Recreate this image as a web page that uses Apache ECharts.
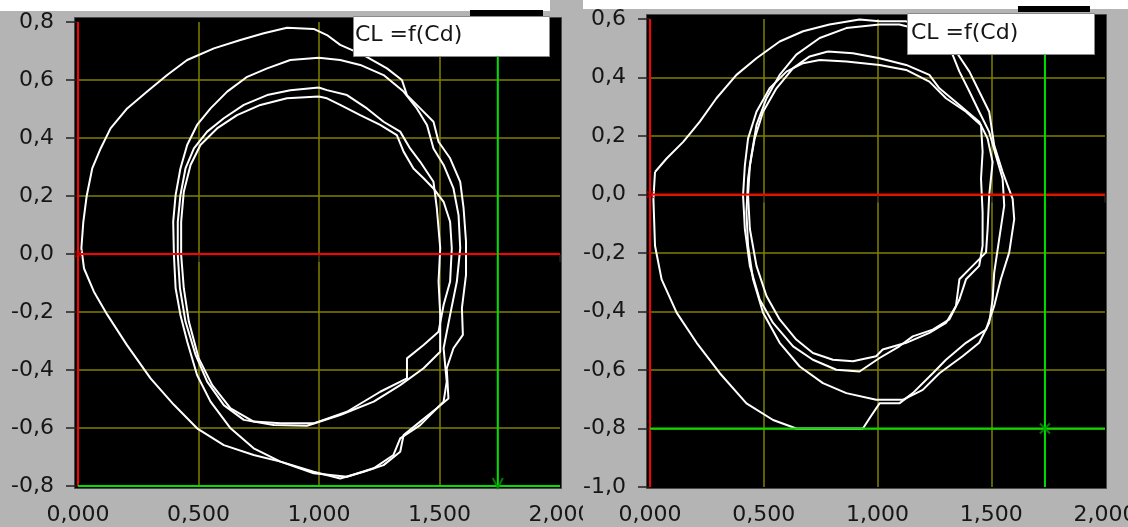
<!DOCTYPE html>
<html><head><meta charset="utf-8">
<script src="https://cdn.jsdelivr.net/npm/echarts@6/dist/echarts.min.js"></script>
<style>html,body{margin:0;padding:0;background:#b4b4b4;overflow:hidden}#c{width:1128px;height:527px;}</style>
</head><body><div id="c"></div>
<script>
// ---- data ----
const xTickLabels = ['0,000','0,500','1,000','1,500','2,000'];
const leftYTickLabels = ['-0,8','-0,6','-0,4','-0,2','0,0','0,2','0,4','0,6','0,8'];
const rightYTickLabels = ['-1,0','-0,8','-0,6','-0,4','-0,2','0,0','0,2','0,4','0,6'];
const legendName = 'CL =f(Cd)';

// cursors [Cd, CL]
const leftCursorRed = [0, 0];
const leftCursorGreen = [1.742, -0.8];
const rightCursorRed = [0, 0];
const rightCursorGreen = [1.736, -0.8];

// left panel loops [Cd, CL]
const leftLoopA = [[0.025,-0.05],[0.014,0.02],[0.022,0.11],[0.036,0.20],[0.059,0.295],[0.094,0.364],[0.135,0.433],[0.204,0.502],[0.287,0.56],[0.37,0.617],[0.453,0.669],[0.564,0.709],[0.674,0.738],[0.771,0.761],[0.867,0.78],[0.978,0.776],[1.033,0.755],[1.088,0.721],[1.185,0.686],[1.282,0.64],[1.344,0.6],[1.365,0.548],[1.42,0.502],[1.475,0.456],[1.496,0.387],[1.544,0.33],[1.586,0.249],[1.60,0.157],[1.61,0.043],[1.61,-0.072],[1.593,-0.187],[1.597,-0.279],[1.558,-0.325],[1.53,-0.394],[1.537,-0.498],[1.489,-0.532],[1.42,-0.578],[1.351,-0.624],[1.337,-0.682],[1.268,-0.728],[1.185,-0.751],[1.088,-0.774],[0.978,-0.751],[0.84,-0.716],[0.729,-0.693],[0.605,-0.659],[0.494,-0.601],[0.398,-0.52],[0.301,-0.429],[0.204,-0.315],[0.122,-0.21],[0.066,-0.13]];
const leftLoopB = [[0.999,0.677],[0.881,0.669],[0.785,0.64],[0.702,0.611],[0.619,0.56],[0.55,0.502],[0.494,0.445],[0.453,0.376],[0.425,0.295],[0.405,0.203],[0.395,0.111],[0.398,-0.003],[0.405,-0.118],[0.425,-0.21],[0.453,-0.302],[0.494,-0.417],[0.55,-0.509],[0.633,-0.601],[0.729,-0.67],[0.84,-0.716],[0.978,-0.756],[1.116,-0.768],[1.227,-0.739],[1.309,-0.693],[1.337,-0.636],[1.42,-0.59],[1.517,-0.509],[1.53,-0.44],[1.517,-0.325],[1.544,-0.21],[1.572,-0.095],[1.586,0.02],[1.579,0.134],[1.558,0.226],[1.517,0.307],[1.475,0.364],[1.448,0.445],[1.406,0.502],[1.351,0.56],[1.268,0.617],[1.171,0.652],[1.088,0.669]];
const leftLoopC = [[0.999,0.574],[0.881,0.565],[0.785,0.548],[0.688,0.514],[0.605,0.468],[0.536,0.422],[0.481,0.364],[0.446,0.295],[0.425,0.203],[0.414,0.111],[0.414,-0.003],[0.423,-0.118],[0.446,-0.233],[0.488,-0.348],[0.536,-0.44],[0.605,-0.521],[0.688,-0.572],[0.812,-0.59],[0.95,-0.592],[1.088,-0.555],[1.227,-0.509],[1.337,-0.452],[1.434,-0.394],[1.503,-0.337],[1.503,-0.21],[1.496,-0.095],[1.503,0.02],[1.489,0.157],[1.475,0.249],[1.42,0.318],[1.378,0.364],[1.337,0.422],[1.268,0.456],[1.199,0.502],[1.116,0.548],[1.033,0.565]];
const leftLoopD = [[0.999,0.543],[0.867,0.537],[0.757,0.514],[0.66,0.479],[0.577,0.433],[0.508,0.376],[0.467,0.307],[0.439,0.215],[0.428,0.111],[0.428,-0.003],[0.439,-0.118],[0.46,-0.233],[0.501,-0.36],[0.557,-0.452],[0.633,-0.532],[0.729,-0.578],[0.84,-0.584],[0.978,-0.584],[1.116,-0.544],[1.254,-0.475],[1.365,-0.429],[1.365,-0.36],[1.434,-0.314],[1.496,-0.268],[1.517,-0.176],[1.544,-0.095],[1.551,0.02],[1.544,0.111],[1.517,0.18],[1.475,0.226],[1.434,0.261],[1.392,0.295],[1.351,0.353],[1.323,0.41],[1.254,0.445],[1.171,0.479],[1.088,0.514],[1.033,0.537]];

// right panel loops [Cd, CL]
const rightLoopA = [[0.022,0.077],[0.073,0.123],[0.146,0.18],[0.219,0.249],[0.292,0.329],[0.38,0.409],[0.468,0.466],[0.57,0.523],[0.673,0.558],[0.789,0.581],[0.921,0.598],[1.009,0.592],[1.126,0.592],[1.243,0.558],[1.345,0.489],[1.404,0.42],[1.447,0.352],[1.491,0.283],[1.513,0.168],[1.55,0.077],[1.594,-0.015],[1.601,-0.084],[1.579,-0.198],[1.542,-0.29],[1.513,-0.381],[1.477,-0.462],[1.389,-0.507],[1.301,-0.565],[1.243,-0.611],[1.155,-0.679],[1.096,-0.714],[1.009,-0.714],[0.965,-0.765],[0.936,-0.8],[0.775,-0.8],[0.643,-0.8],[0.541,-0.771],[0.424,-0.714],[0.307,-0.611],[0.205,-0.507],[0.117,-0.404],[0.051,-0.29],[0.022,-0.175],[0.015,-0.015]];
const rightLoopB = [[1.009,0.581],[0.863,0.569],[0.746,0.535],[0.643,0.478],[0.57,0.409],[0.512,0.329],[0.468,0.237],[0.446,0.134],[0.431,0.054],[0.424,-0.061],[0.431,-0.175],[0.453,-0.29],[0.497,-0.404],[0.57,-0.507],[0.658,-0.588],[0.76,-0.645],[0.863,-0.679],[0.994,-0.702],[1.111,-0.702],[1.199,-0.668],[1.272,-0.611],[1.374,-0.553],[1.447,-0.507],[1.491,-0.439],[1.506,-0.359],[1.513,-0.267],[1.535,-0.152],[1.557,-0.038],[1.55,0.054],[1.52,0.134],[1.491,0.214],[1.447,0.283],[1.404,0.352],[1.36,0.42],[1.33,0.478],[1.272,0.523],[1.184,0.564],[1.096,0.581]];
const rightLoopC = [[0.782,0.489],[0.892,0.483],[1.009,0.466],[1.126,0.443],[1.228,0.409],[1.272,0.363],[1.36,0.306],[1.447,0.249],[1.484,0.191],[1.506,0.111],[1.491,-0.003],[1.484,-0.118],[1.477,-0.198],[1.418,-0.244],[1.36,-0.29],[1.345,-0.381],[1.301,-0.439],[1.228,-0.473],[1.126,-0.507],[1.023,-0.53],[0.994,-0.553],[0.892,-0.57],[0.804,-0.565],[0.716,-0.542],[0.643,-0.496],[0.57,-0.427],[0.512,-0.347],[0.468,-0.244],[0.439,-0.118],[0.431,-0.003],[0.439,0.1],[0.46,0.191],[0.497,0.283],[0.556,0.363],[0.629,0.432],[0.702,0.472]];
const rightLoopD = [[0.746,0.46],[0.863,0.455],[1.009,0.443],[1.126,0.426],[1.228,0.386],[1.301,0.329],[1.389,0.283],[1.455,0.237],[1.462,0.146],[1.455,0.054],[1.462,-0.061],[1.462,-0.175],[1.447,-0.244],[1.389,-0.29],[1.36,-0.359],[1.316,-0.427],[1.243,-0.462],[1.155,-0.485],[1.096,-0.519],[1.009,-0.559],[0.921,-0.605],[0.819,-0.599],[0.716,-0.565],[0.629,-0.519],[0.541,-0.439],[0.482,-0.359],[0.439,-0.244],[0.417,-0.118],[0.409,-0.003],[0.417,0.1],[0.431,0.191],[0.468,0.283],[0.526,0.363],[0.6,0.42],[0.673,0.449]];

// ---- chart ----
const FONT = '"DejaVu Sans", sans-serif';
const panels = [
  {yMin:-0.8, yMax:0.8, yLabels:leftYTickLabels, loops:[leftLoopA,leftLoopB,leftLoopC,leftLoopD],
   red:leftCursorRed, green:leftCursorGreen, greenSym:'path://M0 0L5 5L10 0', greenOff:[0,-3],
   grid:{left:78, top:22, width:482, height:464}, yOff:8, xOff:6},
  {yMin:-1.0, yMax:0.6, yLabels:rightYTickLabels, loops:[rightLoopA,rightLoopB,rightLoopC,rightLoopD],
   red:rightCursorRed, green:rightCursorGreen, greenSym:'path://M0 0L10 10M10 0L0 10', greenOff:[0,0],
   grid:{left:650, top:19, width:455, height:468}, yOff:8, xOff:5}
];

const grids = [], xAxes = [], yAxes = [], series = [];
panels.forEach((p, i) => {
  grids.push(Object.assign({containLabel:false, outerBoundsMode:'none'}, p.grid));
  xAxes.push({type:'value', gridIndex:i, min:0, max:2, interval:0.5, offset:p.xOff,
    axisLine:{show:false}, axisTick:{show:true, length:8, lineStyle:{color:'#202020', width:1.5}},
    axisLabel:{margin:12, color:'#161616', fontFamily:FONT, fontSize:22, hideOverlap:false,
      formatter:(v, idx) => xTickLabels[idx]},
    splitLine:{show:true, showMinLine:false, showMaxLine:false, lineStyle:{color:'#808000', width:1.5}}});
  yAxes.push({type:'value', gridIndex:i, min:p.yMin, max:p.yMax, interval:0.2, offset:p.yOff,
    axisLine:{show:false}, axisTick:{show:true, length:12, lineStyle:{color:'#202020', width:1.5}},
    axisLabel:{margin:16, color:'#161616', fontFamily:FONT, fontSize:22, formatter:(v, idx) => p.yLabels[idx]},
    splitLine:{show:true, showMinLine:false, showMaxLine:false, lineStyle:{color:'#808000', width:1.5}}});
  p.loops.forEach(loop => {
    series.push({type:'line', name:legendName, xAxisIndex:i, yAxisIndex:i, data:loop.concat([loop[0]]),
      symbol:'none', showSymbol:false, lineStyle:{color:'#ffffff', width:2}, silent:true, z:3});
  });
  const cur = (data, color, z) => ({type:'line', xAxisIndex:i, yAxisIndex:i, data, symbol:'none',
    lineStyle:{color, width:2}, silent:true, z});
  series.push(cur([[p.red[0], p.yMin],[p.red[0], p.yMax]], '#ff0000', 4));
  series.push(cur([[0, p.red[1]],[2, p.red[1]]], '#ff0000', 4));
  series.push(cur([[p.green[0], p.yMin],[p.green[0], p.yMax]], '#00e000', 4));
  series.push(cur([[0, p.green[1]],[2, p.green[1]]], '#00e000', 4));
  series.push({type:'scatter', xAxisIndex:i, yAxisIndex:i, data:[p.red], symbol:'path://M0 0L10 10M10 0L0 10',
    symbolSize:7, itemStyle:{color:'rgba(0,0,0,0)', borderColor:'#b00000', borderWidth:1.5}, silent:true, z:5});
  series.push({type:'scatter', xAxisIndex:i, yAxisIndex:i, data:[p.green], symbol:p.greenSym, symbolOffset:p.greenOff,
    symbolSize:10, itemStyle:{color:'rgba(0,0,0,0)', borderColor:'#009a00', borderWidth:2}, silent:true, z:5});
});

const rect = (x, y, w, h, fill, z, stroke) => ({type:'rect', z, silent:true, shape:{x, y, width:w, height:h},
  style:{fill, stroke: stroke || null, lineWidth: stroke ? 1 : 0}});
const graphics = [
  rect(0, 0, 550, 11, '#ffffff', -20),
  rect(583, 0, 545, 9, '#ffffff', -20),
  rect(74.5, 17.5, 487, 471, '#000000', -10, '#4a4a4a'),
  rect(646.5, 14.5, 460, 474, '#000000', -10, '#4a4a4a'),
  rect(470, 10, 73, 6, '#000000', 90),
  rect(1018, 6, 72, 6, '#000000', 90),
  rect(353.5, 16.5, 196, 40, '#ffffff', 100, '#8a8a8a'),
  rect(907.5, 13.5, 187, 41, '#ffffff', 100, '#8a8a8a'),
  rect(583, 498, 28, 29, '#b4b4b4', 100),
  {type:'text', z:101, silent:true, style:{text:legendName, x:355, y:35, verticalAlign:'middle',
    fontFamily:FONT, fontSize:22, fill:'#161616'}},
  {type:'text', z:101, silent:true, style:{text:legendName, x:911, y:33, verticalAlign:'middle',
    fontFamily:FONT, fontSize:22, fill:'#161616'}}
];

const chart = echarts.init(document.getElementById('c'), null, {renderer:'canvas'});
chart.setOption({
  animation:false,
  backgroundColor:'#b4b4b4',
  grid:grids, xAxis:xAxes, yAxis:yAxes, series,
  graphic:{elements:graphics}
});
</script></body></html>
